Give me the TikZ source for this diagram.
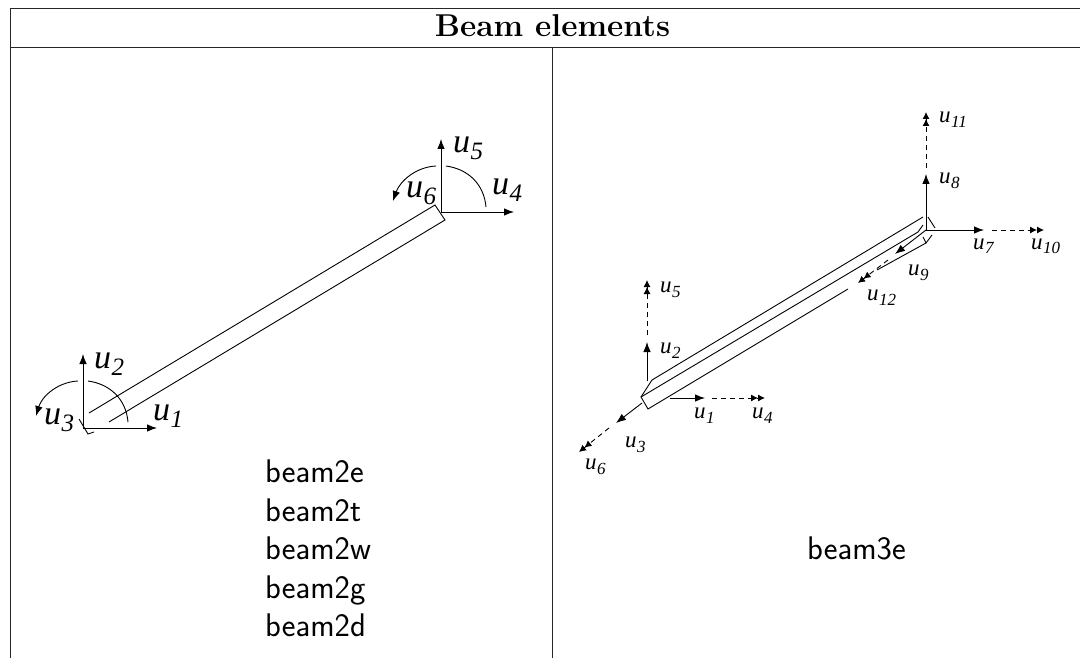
\documentclass[tikz,border=0pt]{standalone}
\usepackage{fontspec}
\usetikzlibrary{arrows.meta}
\newfontfamily\ulabel{Liberation Serif Italic}
\newcommand{\ubig}[1]{{\fontsize{34}{34}\selectfont\ulabel u\kern0.5pt\raisebox{-7pt}{\fontsize{25}{25}\selectfont #1}}}
\newcommand{\usmall}[1]{{\fontsize{23}{23}\selectfont\ulabel u\kern0.5pt\raisebox{-5pt}{\fontsize{17}{17}\selectfont #1}}}
\tikzset{
  x=1pt,y=-1pt,
  grid/.style={line width=1pt,black!85},
  beam/.style={line width=0.9pt,black},
  axis/.style={line width=0.9pt,black,-{Latex[length=10pt,width=7.5pt]}},
  axisd/.style={line width=0.9pt,black,dash pattern=on 5pt off 4pt,-{Latex[length=7pt,width=7pt]Latex[length=7pt,width=7pt]}},
  big/.style={anchor=base west,inner sep=0pt},
  sans/.style={font=\sffamily\fontsize{32.7}{38}\selectfont,anchor=base west,inner sep=0pt},
}
\begin{document}
\begin{tikzpicture}
\useasboundingbox (0,0) rectangle (1080,658);
% table
\coordinate (tl) at (10,8.5); \coordinate (tr) at (1080,8.5);
\coordinate (hl) at (10,47.7); \coordinate (hr) at (1080,47.7);
\coordinate (bl) at (10,658);
\coordinate (hm) at (552,47.7); \coordinate (bm) at (552,658);
\draw[grid] (tl) -- (tr) (hl) -- (hr) (tl) -- (bl) (hm) -- (bm);
\node[inner sep=0pt,anchor=base] (title) at (552.5,36.7) {\fontsize{31.6}{36}\selectfont\bfseries Beam elements};
\node[sans] (l1) at (265,482) {beam2e};
\node[sans] (l2) at (265,521) {beam2t};
\node[sans] (l3) at (265,559) {beam2w};
\node[sans] (l4) at (265,598) {beam2g};
\node[sans] (l5) at (265,636) {beam2d};
\node[sans] (listr) at (807,559) {beam3e};
% left beam
\coordinate (la) at (83,428); \coordinate (lat) at (83,354); \coordinate (lar) at (157,428);
\coordinate (b1) at (89,413); \coordinate (b2) at (435,205); \coordinate (b3) at (445,220); \coordinate (b4) at (109,422);
\draw[beam] (b1) -- (b2) -- (b3) -- (b4);
\coordinate (e1) at (79,419); \coordinate (e2) at (88,434); \coordinate (e3) at (94,432);
\draw[beam] (e1) -- (e2) -- (e3);
\draw[axis] (la) -- (lat);
\draw[axis] (la) -- (lar);
\coordinate (a1) at (128,422); \coordinate (a2) at (88,381); \coordinate (a3) at (78,381); \coordinate (a4) at (36,416);
\draw[beam] (a1) .. controls (126,399) and (110,384) .. (a2);
\draw[beam,-{Latex[length=10pt,width=7.5pt]}] (a3) .. controls (58,382) and (42,396) .. (a4);
\coordinate (ra) at (441,212); \coordinate (rat) at (441,139); \coordinate (rar) at (514,212);
\draw[axis] (ra) -- (rat);
\draw[axis] (ra) -- (rar);
\coordinate (c1) at (486,207); \coordinate (c2) at (446,166); \coordinate (c3) at (436,166); \coordinate (c4) at (393,201);
\draw[beam] (c1) .. controls (484,184) and (468,169) .. (c2);
\draw[beam,-{Latex[length=10pt,width=7.5pt]}] (c3) .. controls (416,167) and (400,181) .. (c4);
\node[big] (lu1) at (153,420) {\ubig{1}};
\node[big] (lu2) at (94,368) {\ubig{2}};
\node[big] (lu3) at (44,424) {\ubig{3}};
\node[big] (lu4) at (492,195) {\ubig{4}};
\node[big] (lu5) at (453,153) {\ubig{5}};
\node[big] (lu6) at (406,198) {\ubig{6}};
% right beam
\coordinate (p1) at (652,380); \coordinate (p2) at (641,397); \coordinate (p3) at (648,409);
\coordinate (q1) at (923,217); \coordinate (q2) at (918,232); \coordinate (q3) at (926,243);
\coordinate (q2t) at (923,225); \coordinate (q3a) at (923,237); \coordinate (q3b) at (932,235);
\coordinate (q4) at (928,217); \coordinate (q5) at (935,228);
\coordinate (gapa) at (848,289); \coordinate (gapb) at (877,270);
\draw[beam] (p1) -- (p2) -- (p3) -- (gapa);
\draw[beam] (gapb) -- (q3);
\draw[beam] (p1) -- (q1);
\draw[beam] (p2) -- (q2) -- (q2t);
\draw[beam] (q3a) -- (q3) -- (q3b);
\draw[beam] (q4) -- (q5);
% left node axes
\coordinate (o1) at (647,381); \coordinate (o2) at (647,342); \coordinate (o3) at (647,335); \coordinate (o4) at (647,280);
\draw[axis] (o1) -- (o2);
\draw[axisd] (o3) -- (o4);
\coordinate (h1) at (670,398); \coordinate (h2) at (705,398); \coordinate (h3) at (712,398); \coordinate (h4) at (765,398);
\draw[axis] (h1) -- (h2);
\draw[axisd] (h3) -- (h4);
\coordinate (d1) at (642,403); \coordinate (d2) at (616,423); \coordinate (d3) at (609,428); \coordinate (d4) at (579,452);
\draw[axis] (d1) -- (d2);
\draw[axisd] (d3) -- (d4);
% right node axes
\coordinate (v1) at (926,230); \coordinate (v2) at (926,174); \coordinate (v3) at (926,168); \coordinate (v4) at (926,112);
\draw[axis] (v1) -- (v2);
\draw[axisd] (v3) -- (v4);
\coordinate (w2) at (984,230); \coordinate (w3) at (992,230); \coordinate (w4) at (1044,230);
\draw[axis] (v1) -- (w2);
\draw[axisd] (w3) -- (w4);
\coordinate (z2) at (895,254); \coordinate (z3) at (888,260); \coordinate (z4) at (858,283);
\draw[axis] (v1) -- (z2);
\draw[axisd] (z3) -- (z4);
\node[big] (ru1) at (694,418) {\usmall{1}};
\node[big] (ru2) at (660,353) {\usmall{2}};
\node[big] (ru3) at (625,447) {\usmall{3}};
\node[big] (ru4) at (752,418) {\usmall{4}};
\node[big] (ru5) at (660,292) {\usmall{5}};
\node[big] (ru6) at (585,469) {\usmall{6}};
\node[big] (ru7) at (973,249) {\usmall{7}};
\node[big] (ru8) at (939,184) {\usmall{8}};
\node[big] (ru9) at (908,276) {\usmall{9}};
\node[big] (ru10) at (1031,249) {\usmall{10}};
\node[big] (ru11) at (939,123) {\usmall{11}};
\node[big] (ru12) at (867,300) {\usmall{12}};
\end{tikzpicture}
\end{document}
